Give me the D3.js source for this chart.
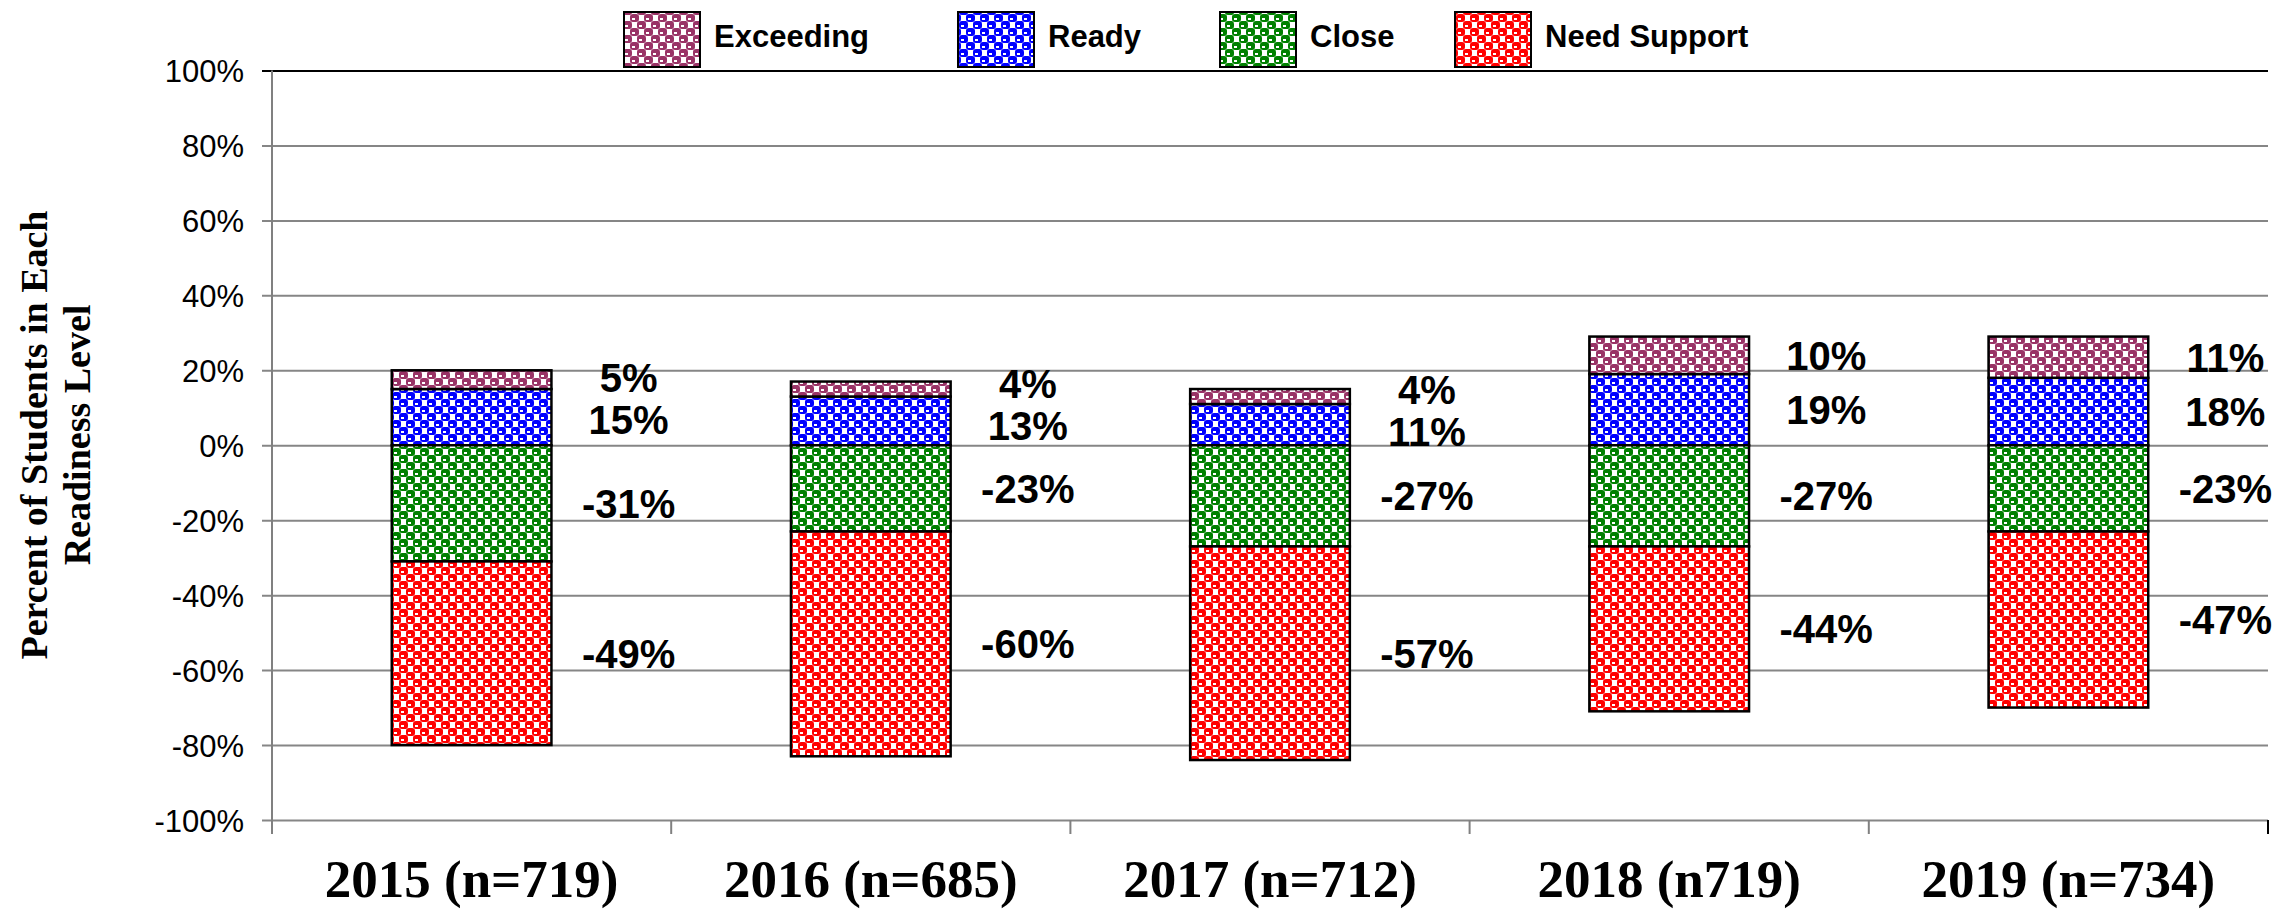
<!DOCTYPE html>
<html>
<head>
<meta charset="utf-8">
<script src="https://cdn.jsdelivr.net/npm/d3@7"></script>
<style>
  body { margin: 0; background: #fff; }
  svg { display: block; }
</style>
</head>
<body>
<div id="chart-container"></div>
<script>
// readiness levels by year, stacked around zero

var years = ["2015 (n=719)", "2016 (n=685)", "2017 (n=712)", "2018 (n719)", "2019 (n=734)"];
var levels = ["Exceeding", "Ready", "Close", "Need Support"];
var exceedingVals = [5, 4, 4, 10, 11];
var readyVals = [15, 13, 11, 19, 18];
var closeVals = [-31, -23, -27, -27, -23];
var needSupportVals = [-49, -60, -57, -44, -47];
var yTicks = [-100, -80, -60, -40, -20, 0, 20, 40, 60, 80, 100];

var colors = { "Exceeding": "#993366", "Ready": "#0000ff", "Close": "#008000", "Need Support": "#ff0000" };

var W = 2282, H = 909;
var plotLeft = 272, plotRight = 2268, plotTop = 70.5, plotBottom = 820;

var svg = d3.select("#chart-container")
  .append("svg")
  .attr("width", W)
  .attr("height", H)
  .attr("viewBox", "0 0 " + W + " " + H);

// sphere-ish fill pattern for each level
var defs = svg.append("defs");
var T = 14, h = T / 2;
levels.forEach(function (lv, i) {
  var p = defs.append("pattern")
    .attr("id", "pat" + i)
    .attr("patternUnits", "userSpaceOnUse")
    .attr("width", T)
    .attr("height", T);
  p.append("rect").attr("width", T).attr("height", T).attr("fill", "#fff");
  [[0, 0], [h, h], [-h, h], [0, T], [-h, -h], [h, -h], [T, 0]].forEach(function (o) {
    p.append("rect")
      .attr("x", o[0]).attr("y", o[1])
      .attr("width", 9).attr("height", 8)
      .attr("rx", 3)
      .attr("fill", colors[lv]);
    p.append("rect")
      .attr("x", o[0] + 2).attr("y", o[1] + 4)
      .attr("width", 3).attr("height", 2)
      .attr("fill", "#fff");
  });
});

var x = d3.scaleBand()
  .domain(years)
  .range([plotLeft, plotRight])
  .paddingInner(0.6)
  .paddingOuter(0.3);

var y = d3.scaleLinear()
  .domain([-100, 100])
  .range([plotBottom, plotTop]);

// gridlines
var grid = svg.append("g")
  .attr("transform", "translate(" + plotRight + ",0)")
  .call(d3.axisLeft(y).tickValues(yTicks).tickSize(plotRight - plotLeft + 10).tickFormat(""));
grid.select(".domain").remove();
grid.selectAll("line")
  .style("stroke", function (d) { return d === 100 ? "#000" : "#868686"; })
  .style("stroke-width", 2);

// y tick labels
var yAxis = svg.append("g")
  .attr("transform", "translate(" + (plotLeft - 10) + ",0)")
  .call(d3.axisLeft(y).tickValues(yTicks).tickSize(0).tickPadding(18).tickFormat(function (d) { return d + "%"; }));
yAxis.select(".domain").remove();
yAxis.selectAll("text")
  .attr("dy", "0.36em")
  .style("font-family", "Liberation Sans, Arial, sans-serif")
  .style("font-size", "31px")
  .style("fill", "#000");

// y axis line
svg.append("line")
  .attr("x1", plotLeft).attr("x2", plotLeft)
  .attr("y1", plotTop).attr("y2", plotBottom + 14)
  .style("stroke", "#808080")
  .style("stroke-width", 2);

// category boundary ticks
var step = x.step();
var bounds = years.map(function (d) { return x(d) - (step - x.bandwidth()) / 2; });
bounds.push(plotRight);
svg.selectAll(".ctick")
  .data(bounds.slice(1))
  .enter().append("line")
  .attr("class", "ctick")
  .attr("x1", function (d) { return d; })
  .attr("x2", function (d) { return d; })
  .attr("y1", plotBottom)
  .attr("y2", plotBottom + 14)
  .style("stroke", function (d, i) { return i === years.length - 1 ? "#000" : "#808080"; })
  .style("stroke-width", 2);

// x labels
var xAxis = svg.append("g")
  .attr("transform", "translate(0," + plotBottom + ")")
  .call(d3.axisBottom(x).tickSize(0).tickPadding(0));
xAxis.select(".domain").remove();
xAxis.selectAll("text")
  .attr("y", 77)
  .attr("dy", 0)
  .style("font-family", "Liberation Serif, 'Times New Roman', serif")
  .style("font-weight", "bold")
  .style("font-size", "53px")
  .style("fill", "#000");

// stack: positives up from zero, negatives down from zero
var series = [
  { name: "Ready", values: readyVals, base: function (i) { return 0; } },
  { name: "Exceeding", values: exceedingVals, base: function (i) { return readyVals[i]; } },
  { name: "Close", values: closeVals, base: function (i) { return 0; } },
  { name: "Need Support", values: needSupportVals, base: function (i) { return closeVals[i]; } }
];

// label y at segment middle, pushed apart where two labels would touch
var minGap = 42;
function labelY(name, i) {
  var rY = y(readyVals[i] / 2);
  var eY = y(readyVals[i] + exceedingVals[i] / 2);
  var gap = rY - eY;
  var push = gap < minGap ? (minGap - gap) / 2 : 0;
  if (name === "Ready") return rY + push;
  if (name === "Exceeding") return eY - push;
  if (name === "Close") return y(closeVals[i] / 2);
  return y(closeVals[i] + needSupportVals[i] / 2);
}

series.forEach(function (s) {
  var pid = "url(#pat" + levels.indexOf(s.name) + ")";
  var g = svg.append("g");
  g.selectAll("rect")
    .data(s.values)
    .enter().append("rect")
    .attr("x", function (d, i) { return x(years[i]); })
    .attr("width", x.bandwidth())
    .attr("y", function (d, i) { var b = s.base(i); return y(Math.max(b, b + d)); })
    .attr("height", function (d) { return Math.abs(y(0) - y(d)); })
    .attr("fill", pid)
    .style("stroke", "#000")
    .style("stroke-width", 2.5);

  g.selectAll("text")
    .data(s.values)
    .enter().append("text")
    .attr("x", function (d, i) { return x(years[i]) + x.bandwidth() / 2 + 157; })
    .attr("y", function (d, i) { return labelY(s.name, i); })
    .attr("dy", "0.36em")
    .attr("text-anchor", "middle")
    .style("font-family", "Liberation Sans, Arial, sans-serif")
    .style("font-weight", "bold")
    .style("font-size", "40px")
    .text(function (d) { return d + "%"; });
});

// y axis title
var title = svg.append("text")
  .attr("transform", "translate(47,435) rotate(-90)")
  .attr("text-anchor", "middle")
  .style("font-family", "Liberation Serif, 'Times New Roman', serif")
  .style("font-weight", "bold")
  .style("font-size", "38px");
title.append("tspan").attr("x", 0).attr("y", 0).text("Percent of Students in Each");
title.append("tspan").attr("x", 0).attr("y", 43).text("Readiness Level");

// legend
var legendX = [624, 958, 1220, 1455];
var legend = svg.append("g");
levels.forEach(function (lv, i) {
  legend.append("rect")
    .attr("x", legendX[i])
    .attr("y", 12)
    .attr("width", 76)
    .attr("height", 55)
    .attr("fill", "url(#pat" + i + ")")
    .style("stroke", "#000")
    .style("stroke-width", 2);
  legend.append("text")
    .attr("x", legendX[i] + 90)
    .attr("y", 47)
    .style("font-family", "Liberation Sans, Arial, sans-serif")
    .style("font-weight", "bold")
    .style("font-size", "31px")
    .text(lv);
});
</script>
</body>
</html>
